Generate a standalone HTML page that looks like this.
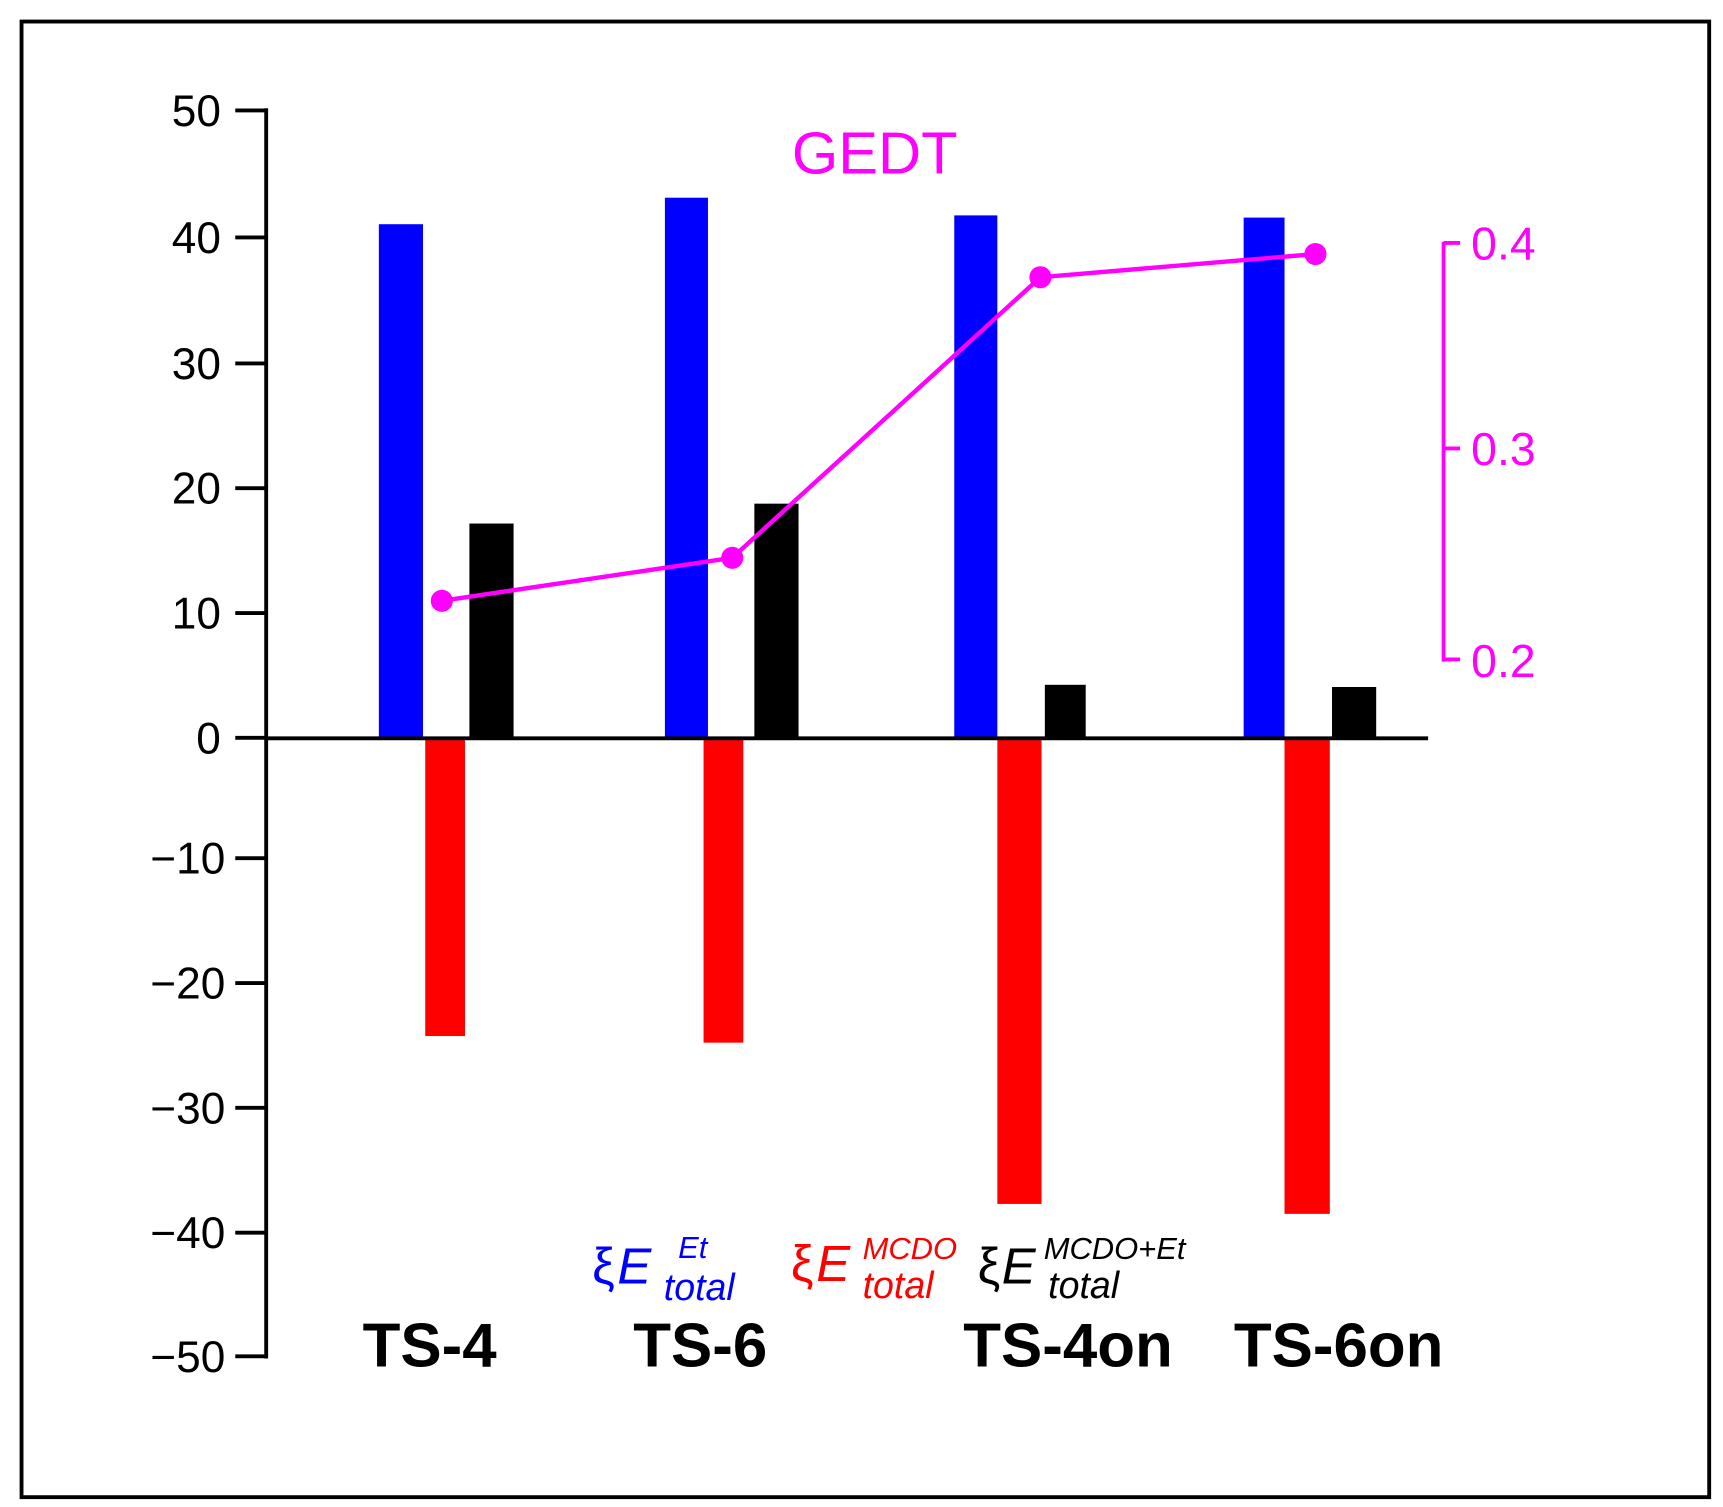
<!DOCTYPE html>
<html><head><style>
html,body{margin:0;padding:0;background:#fff;}
svg{display:block;}
text{font-family:"Liberation Sans",Arial,sans-serif;}
</style></head><body>
<svg width="1723" height="1507" viewBox="0 0 1560 1364.4" preserveAspectRatio="none" xmlns="http://www.w3.org/2000/svg">
<rect x="19.5" y="19.5" width="1528" height="1336" fill="none" stroke="#000" stroke-width="3.5"/>
<g fill="#0000ff">
<rect x="343" y="203" width="40" height="465"/>
<rect x="602" y="179" width="39" height="489"/>
<rect x="864" y="195" width="39" height="473"/>
<rect x="1126" y="197" width="37" height="471"/>
</g>
<g fill="#ff0000">
<rect x="385" y="668" width="36" height="270"/>
<rect x="637" y="668" width="36" height="276"/>
<rect x="903" y="668" width="40" height="422"/>
<rect x="1163" y="668" width="41" height="431"/>
</g>
<g fill="#000">
<rect x="425" y="474" width="40" height="194"/>
<rect x="683" y="456" width="40" height="212"/>
<rect x="946" y="620" width="37" height="48"/>
<rect x="1206" y="622" width="40" height="46"/>
</g>
<line x1="241" y1="98" x2="241" y2="1230" stroke="#000" stroke-width="3.5"/>
<line x1="241" y1="668.5" x2="1293" y2="668.5" stroke="#000" stroke-width="3.5"/>
<g stroke="#000" stroke-width="3.5">
<line x1="213" y1="100" x2="241" y2="100"/>
<line x1="213" y1="215" x2="241" y2="215"/>
<line x1="213" y1="329" x2="241" y2="329"/>
<line x1="213" y1="442" x2="241" y2="442"/>
<line x1="213" y1="555" x2="241" y2="555"/>
<line x1="213" y1="668" x2="241" y2="668"/>
<line x1="213" y1="777" x2="241" y2="777"/>
<line x1="213" y1="890" x2="241" y2="890"/>
<line x1="213" y1="1003" x2="241" y2="1003"/>
<line x1="213" y1="1116" x2="241" y2="1116"/>
<line x1="213" y1="1228" x2="241" y2="1228"/>
</g>
<g font-size="40" text-anchor="end" fill="#000">
<text x="200" y="114">50</text>
<text x="200" y="229">40</text>
<text x="200" y="343">30</text>
<text x="200" y="456">20</text>
<text x="200" y="569">10</text>
<text x="200" y="682">0</text>
<text x="204" y="791">−10</text>
<text x="204" y="904">−20</text>
<text x="204" y="1017">−30</text>
<text x="204" y="1130">−40</text>
<text x="204" y="1242">−50</text>
</g>
<g stroke="#ff00ff" stroke-width="3.5">
<line x1="1307" y1="219" x2="1307" y2="599"/>
<line x1="1307" y1="220" x2="1322" y2="220"/>
<line x1="1307" y1="406" x2="1322" y2="406"/>
<line x1="1307" y1="597" x2="1322" y2="597"/>
</g>
<g font-size="42" fill="#ff00ff">
<text x="1332" y="235">0.4</text>
<text x="1332" y="421">0.3</text>
<text x="1332" y="613">0.2</text>
<text x="717" y="157" font-size="54">GEDT</text>
</g>
<polyline points="400,544 663,505 942,251 1191,230" fill="none" stroke="#ff00ff" stroke-width="4"/>
<g fill="#ff00ff">
<circle cx="400" cy="544" r="10"/><circle cx="663" cy="505" r="10"/>
<circle cx="942" cy="251" r="10"/><circle cx="1191" cy="230" r="10"/>
</g>
<g font-size="56" font-weight="bold" fill="#000" text-anchor="middle">
<text x="389" y="1237">TS-4</text>
<text x="634" y="1237">TS-6</text>
<text x="967" y="1237">TS-4on</text>
<text x="1212" y="1237">TS-6on</text>
</g>
<g font-style="italic">
<g fill="#0000ff">
<text x="536" y="1162" font-size="46" font-style="normal" font-family="DejaVu Serif,serif">ξ</text>
<text x="559" y="1162" font-size="46">E</text>
<text x="614" y="1139" font-size="28">Et</text>
<text x="601" y="1177" font-size="34">total</text>
</g>
<g fill="#ff0000">
<text x="716" y="1160" font-size="46" font-style="normal" font-family="DejaVu Serif,serif">ξ</text>
<text x="739" y="1160" font-size="46">E</text>
<text x="781" y="1140" font-size="28">MCDO</text>
<text x="781" y="1175" font-size="34">total</text>
</g>
<g fill="#000">
<text x="885" y="1162" font-size="46" font-style="normal" font-family="DejaVu Serif,serif">ξ</text>
<text x="907" y="1162" font-size="46">E</text>
<text x="945" y="1140" font-size="28">MCDO+Et</text>
<text x="949" y="1175" font-size="34">total</text>
</g>
</g>
</svg>
</body></html>
